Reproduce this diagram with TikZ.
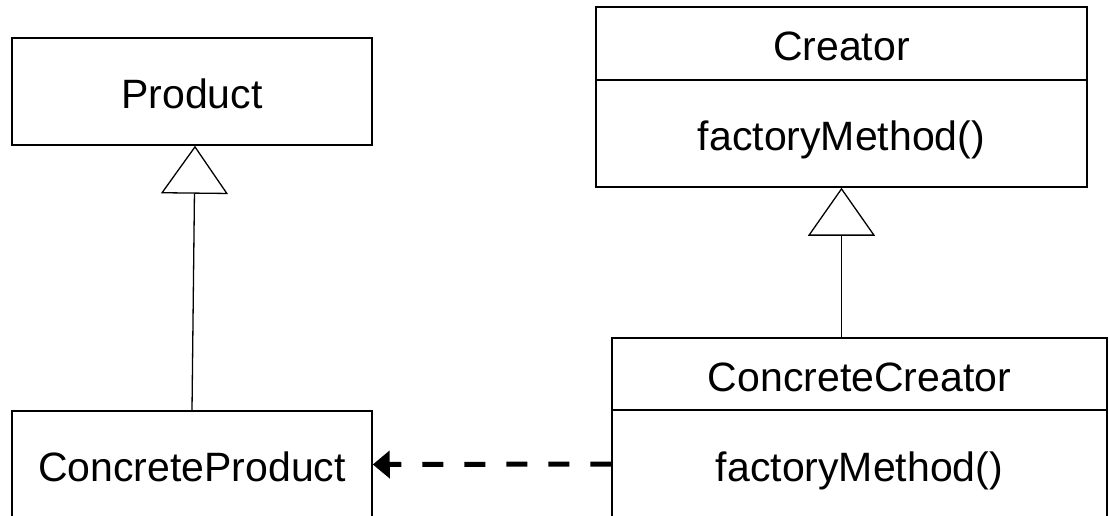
\documentclass[tikz,border=0pt]{standalone}
\usepackage{fontspec}
\setmainfont{Liberation Sans}
\usetikzlibrary{arrows.meta}

\tikzset{
  classbox/.style={draw, line width=1.5pt, rectangle, inner sep=0pt,
    text height=34.4pt, text depth=0pt,
    font=\fontsize{41}{49}\selectfont},
  inherit/.style={line width=1.3pt, -{Triangle[open, length=48pt, width=67pt, line width=1.3pt]}},
  depend/.style={line width=5pt, dash pattern=on 21pt off 21pt, -{Triangle[length=17pt, width=27pt]}}
}

\begin{document}
\begin{tikzpicture}[x=1pt, y=-1pt]
\useasboundingbox (0,0) rectangle (1109,516);

\node[classbox, minimum width=360pt, minimum height=107pt] (prod) at (192,91.5) {Product};
\node[classbox, minimum width=360pt, minimum height=107pt] (cprod) at (192,464.5) {ConcreteProduct};

\node[classbox, minimum width=491pt, minimum height=73pt] (creator) at (841.5,43.5) {Creator};
\node[classbox, minimum width=491pt, minimum height=107pt] (creatorm) at (841.5,133.5) {factoryMethod()};

\node[classbox, minimum width=495pt, minimum height=72pt] (ccreator) at (859.5,374) {ConcreteCreator};
\node[classbox, minimum width=495pt, minimum height=108pt] (ccreatorm) at (859.5,464) {factoryMethod()};

\path[draw, inherit] (cprod.north) -- ([xshift=3pt]prod.south);
\path[draw, inherit] (creatorm.south |- ccreator.north) -- (creatorm.south);
\path[draw, depend] (ccreatorm.west) -- (cprod.east);
\end{tikzpicture}
\end{document}
